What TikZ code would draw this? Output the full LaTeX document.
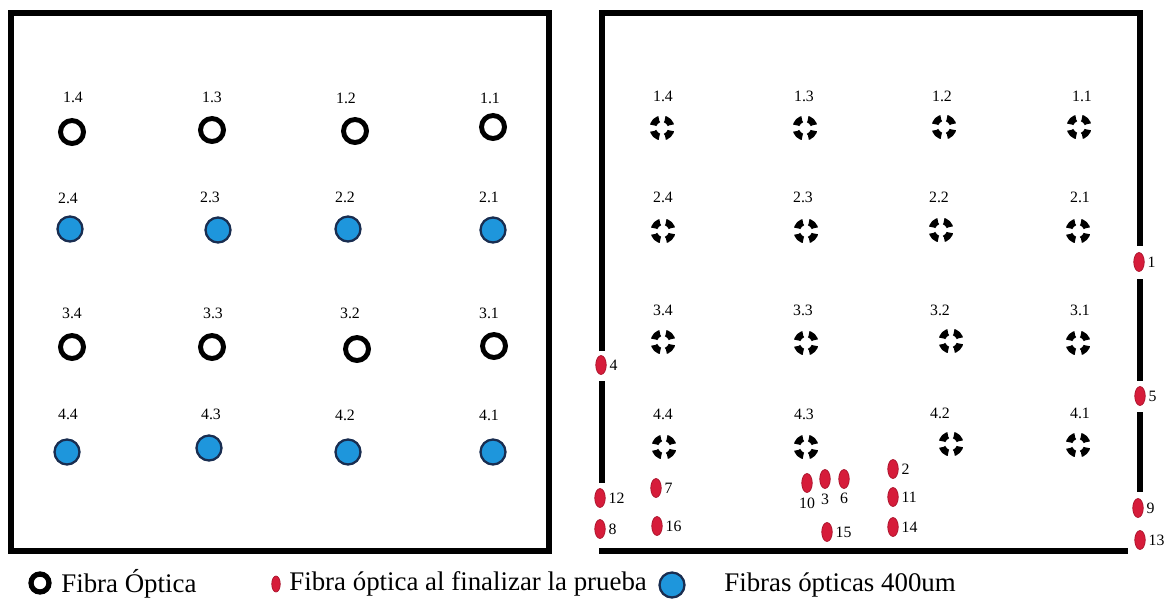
\documentclass[tikz,border=0pt]{standalone}
\usepackage{fontspec}
\setmainfont{Liberation Serif}
\usetikzlibrary{shapes.geometric,positioning}

\definecolor{azulfibra}{RGB}{30,150,220}
\definecolor{azulborde}{RGB}{25,45,80}
\definecolor{rojofibra}{RGB}{214,28,58}
\definecolor{rojoborde}{RGB}{170,20,45}

\begin{document}
\begin{tikzpicture}[x=0.02cm, y=-0.02cm,
  fibra/.style={circle, draw, line width=2.8pt, minimum size=0.46cm, inner sep=0pt},
  fibraazul/.style={circle, draw=azulborde, fill=azulfibra, line width=1.3pt, minimum size=0.5cm, inner sep=0pt},
  mira/.style={circle, minimum size=0.55cm, inner sep=0pt, path picture={
      \draw[line width=0.13cm, dash pattern=on 0.1705cm off 0.12cm, dash phase=0.2305cm]
        (path picture bounding box.center) circle (0.185cm);}},
  gota/.style={ellipse, draw=rojoborde, fill=rojofibra, line width=0.4pt, minimum width=0.21cm, minimum height=0.38cm, inner sep=0pt},
  etq/.style={font=\fontsize{9}{10}\selectfont, inner sep=0pt},
  num/.style={font=\fontsize{9}{10}\selectfont, inner sep=0pt},
  pared/.style={line width=3.4pt},
  leyenda/.style={font=\fontsize{15.3}{18}\selectfont, inner sep=0pt, anchor=west}]

  \useasboundingbox (0,0) rectangle (1166,609);

  % caja izquierda
  \draw[pared] (11,13) rectangle (549,551);

  \node[etq] (a14) at (73,97) {1.4};
  \node[etq] (a13) at (212,97) {1.3};
  \node[etq] (a12) at (346,98) {1.2};
  \node[etq] (a11) at (490,98) {1.1};
  \node[fibra] (c14) at (72,132) {};
  \node[fibra] (c13) at (212,130) {};
  \node[fibra] (c12) at (355,131) {};
  \node[fibra] (c11) at (493,127) {};

  \node[etq] (a24) at (68,198) {2.4};
  \node[etq] (a23) at (210,197) {2.3};
  \node[etq] (a22) at (345,197) {2.2};
  \node[etq] (a21) at (489,197) {2.1};
  \node[fibraazul] (c24) at (70,229) {};
  \node[fibraazul] (c23) at (218,230) {};
  \node[fibraazul] (c22) at (348,229) {};
  \node[fibraazul] (c21) at (493,230) {};

  \node[etq] (a34) at (72,313) {3.4};
  \node[etq] (a33) at (213,313) {3.3};
  \node[etq] (a32) at (350,313) {3.2};
  \node[etq] (a31) at (489,313) {3.1};
  \node[fibra] (c34) at (72,347) {};
  \node[fibra] (c33) at (212,347) {};
  \node[fibra] (c32) at (357,349) {};
  \node[fibra] (c31) at (494,346) {};

  \node[etq] (a44) at (68,414) {4.4};
  \node[etq] (a43) at (211,414) {4.3};
  \node[etq] (a42) at (345,415) {4.2};
  \node[etq] (a41) at (489,415) {4.1};
  \node[fibraazul] (c44) at (67,452) {};
  \node[fibraazul] (c43) at (209,448) {};
  \node[fibraazul] (c42) at (348,452) {};
  \node[fibraazul] (c41) at (493,452) {};

  % caja derecha, con huecos donde salen las fibras
  \draw[pared] (602,351) -- (602,13) -- (1140,13) -- (1140,246);
  \draw[pared] (602,381) -- (602,483);
  \draw[pared] (1140,279) -- (1140,381);
  \draw[pared] (1140,412) -- (1140,492);
  \draw[pared] (599,551) -- (1128,551);

  \node[etq] (b14) at (663,96) {1.4};
  \node[etq] (b13) at (804,96) {1.3};
  \node[etq] (b12) at (942,96) {1.2};
  \node[etq] (b11) at (1082,96) {1.1};
  \node[mira] (m14) at (662,128) {};
  \node[mira] (m13) at (805,128) {};
  \node[mira] (m12) at (944,127) {};
  \node[mira] (m11) at (1079,127) {};

  \node[etq] (b24) at (663,197) {2.4};
  \node[etq] (b23) at (803,197) {2.3};
  \node[etq] (b22) at (939,197) {2.2};
  \node[etq] (b21) at (1080,197) {2.1};
  \node[mira] (m24) at (663,231) {};
  \node[mira] (m23) at (806,231) {};
  \node[mira] (m22) at (941,230) {};
  \node[mira] (m21) at (1078,231) {};

  \node[etq] (b34) at (663,310) {3.4};
  \node[etq] (b33) at (803,310) {3.3};
  \node[etq] (b32) at (940,310) {3.2};
  \node[etq] (b31) at (1080,310) {3.1};
  \node[mira] (m34) at (663,342) {};
  \node[mira] (m33) at (806,343) {};
  \node[mira] (m32) at (951,341) {};
  \node[mira] (m31) at (1078,343) {};

  \node[etq] (b44) at (663,414) {4.4};
  \node[etq] (b43) at (804,414) {4.3};
  \node[etq] (b42) at (940,413) {4.2};
  \node[etq] (b41) at (1080,413) {4.1};
  \node[mira] (m44) at (664,447) {};
  \node[mira] (m43) at (806,447) {};
  \node[mira] (m42) at (951,444) {};
  \node[mira] (m41) at (1078,445) {};

  % fibras al finalizar la prueba
  \node[gota] (g1) at (1139,262) {};
  \node[num, right=1.5pt of g1] (n1) {1};
  \node[gota] (g2) at (893,469) {};
  \node[num, right=1.5pt of g2] (n2) {2};
  \node[gota] (g3) at (825,479) {};
  \node[num, below=3pt of g3] (n3) {3};
  \node[gota] (g4) at (601,365) {};
  \node[num, right=1.5pt of g4] (n4) {4};
  \node[gota] (g5) at (1140,396) {};
  \node[num, right=1.5pt of g5] (n5) {5};
  \node[gota] (g6) at (844,479) {};
  \node[num, below=2pt of g6] (n6) {6};
  \node[gota] (g7) at (656,488) {};
  \node[num, right=1.5pt of g7] (n7) {7};
  \node[gota] (g8) at (600,529) {};
  \node[num, right=1.5pt of g8] (n8) {8};
  \node[gota] (g9) at (1138,508) {};
  \node[num, right=1.5pt of g9] (n9) {9};
  \node[gota] (g10) at (807,483) {};
  \node[num, below=3pt of g10] (n10) {10};
  \node[gota] (g11) at (893,497) {};
  \node[num, right=1.5pt of g11] (n11) {11};
  \node[gota] (g12) at (600,498) {};
  \node[num, right=1.5pt of g12] (n12) {12};
  \node[gota] (g13) at (1140,540) {};
  \node[num, right=1.5pt of g13] (n13) {13};
  \node[gota] (g14) at (893,527) {};
  \node[num, right=1.5pt of g14] (n14) {14};
  \node[gota] (g15) at (827,532) {};
  \node[num, right=1.5pt of g15] (n15) {15};
  \node[gota] (g16) at (657,526) {};
  \node[num, right=1.5pt of g16] (n16) {16};

  % leyenda
  \node[fibra, minimum size=0.36cm, line width=3pt] (s1) at (40,583) {};
  \node[leyenda] (t1) at (61,584) {Fibra Óptica};
  \node[gota, minimum width=0.17cm, minimum height=0.32cm] (s2) at (276,584) {};
  \node[leyenda] (t2) at (289,584) {Fibra óptica al finalizar la prueba};
  \node[fibraazul] (s3) at (672,585) {};
  \node[leyenda] (t3) at (724,585) {Fibras ópticas 400um};
\end{tikzpicture}
\end{document}
